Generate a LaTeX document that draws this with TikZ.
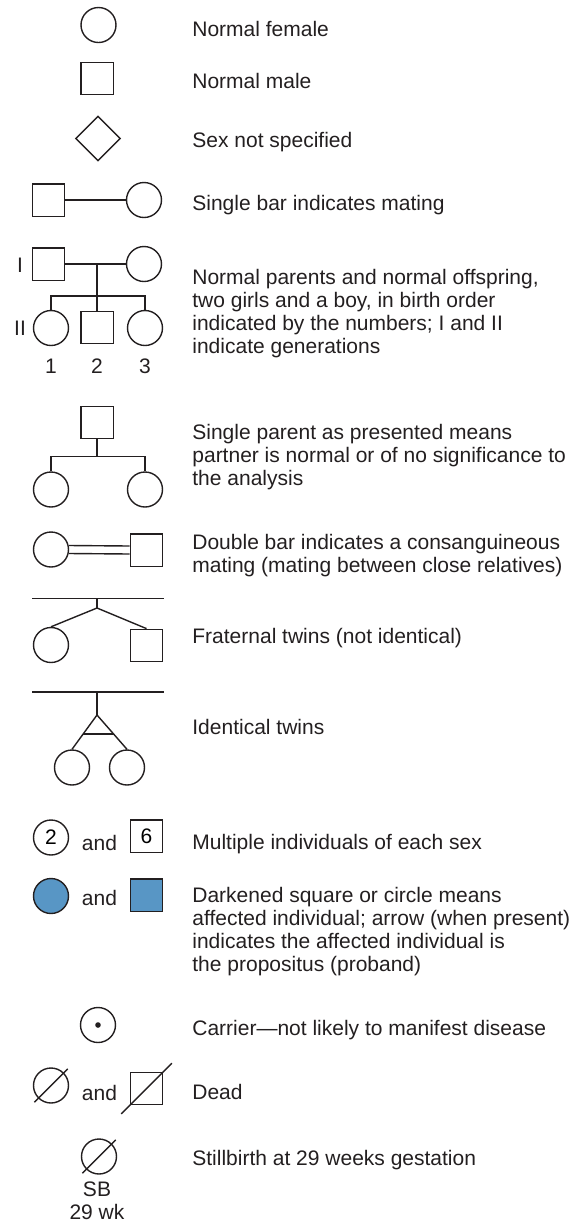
\documentclass[tikz,border=0pt]{standalone}
\usepackage{fontspec}
\setmainfont{Liberation Sans}
\usetikzlibrary{shapes.geometric,calc}
\definecolor{ink}{RGB}{35,31,32}
\definecolor{affected}{RGB}{88,150,197}
\tikzset{
	female/.style={circle,draw=ink,line width=0.7pt,minimum size=17.5pt,inner sep=0pt},
	male/.style={rectangle,draw=ink,line width=0.7pt,minimum size=16.2pt,inner sep=0pt},
	nosex/.style={diamond,draw=ink,line width=0.7pt,minimum size=22.5pt,inner sep=0pt},
	link/.style={draw=ink,line width=0.7pt},
	legend/.style={anchor=base west,align=left,inner sep=0pt,text=ink},
	word/.style={anchor=base,inner sep=0pt,text=ink},
}
\begin{document}
\begin{tikzpicture}[x=0.5pt,y=-0.5pt,font=\fontsize{10.5pt}{11.35pt}\selectfont]
	\useasboundingbox (0,0) rectangle (582,1222);
	% single symbols
	\node[female] (nf) at (98.5,25) {};
	\node[male] (nm) at (97,78.5) {};
	\node[nosex] (ns) at (98,138.5) {};
	% mating
	\node[male] (m4) at (48.5,200) {};
	\node[female] (f4) at (144,200) {};
	\draw[link] (m4) -- (f4);
	% parents and offspring
	\node[male] (m5) at (48.5,264) {};
	\node[female] (f5) at (144,264) {};
	\node[female] (k1) at (51,328) {};
	\node[male] (k2) at (97,327.5) {};
	\node[female] (k3) at (145,328) {};
	\coordinate (mate5) at (97,264);
	\draw[link] (m5) -- (f5);
	\draw[link] (mate5) -- (k2);
	\draw[link] (k1.north) -- ++(0,-14) -| (k3.north);
	\node[word] (gen1) at (20,272) {I};
	\node[word] (gen2) at (20,335) {II};
	\foreach \n/\xx in {1/51,2/97,3/145}
		\node[word] (num\n) at (\xx,373) {\n};
	% single parent
	\node[male] (p6) at (97,422.5) {};
	\node[female] (k61) at (51,489.5) {};
	\node[female] (k62) at (145,489.5) {};
	\coordinate (sib6) at (97,457);
	\draw[link] (p6) -- (sib6);
	\draw[link] (k61.north) -- ++(0,-15) -| (k62.north);
	% consanguineous mating
	\node[female] (f7) at (51,549.5) {};
	\node[male] (m7) at (146.5,550) {};
	\draw[link] ([yshift=2pt]f7.east) -- ([yshift=2pt]m7.west);
	\draw[link] ([yshift=-2pt]f7.east) -- ([yshift=-2pt]m7.west);
	% fraternal twins
	\coordinate (bar8l) at (32,598.5);
	\coordinate (bar8r) at (164,598.5);
	\coordinate (top8) at (97,598.5);
	\coordinate (split8) at (97,608);
	\node[female] (f8) at (51,645) {};
	\node[male] (m8) at (146.5,645.5) {};
	\draw[link] (bar8l) -- (bar8r);
	\draw[link] (top8) -- (split8);
	\draw[link] (f8.north) -- (split8) -- (m8.north);
	% identical twins
	\coordinate (bar9l) at (32,692);
	\coordinate (bar9r) at (164,692);
	\coordinate (top9) at (97,692);
	\coordinate (apex9) at (97,715);
	\node[female] (i1) at (72,767.5) {};
	\node[female] (i2) at (127,767.5) {};
	\draw[link] (bar9l) -- (bar9r);
	\draw[link] (top9) -- (apex9);
	\draw[link] (i1.north) -- (apex9) -- (i2.north);
	\draw[link] ($(apex9)!0.55!(i1.north)$) -- ($(apex9)!0.55!(i2.north)$);
	% several individuals
	\node[female] (n2) at (51,837.5) {2};
	\node[word] (and10) at (99.5,850) {and};
	\node[male] (n6) at (146.5,836) {6};
	% affected
	\node[female,fill=affected] (a1) at (51,896) {};
	\node[word] (and11) at (99.5,905) {and};
	\node[male,fill=affected] (a2) at (146.5,895) {};
	% carrier
	\node[female] (car) at (98,1025) {};
	\node[circle,fill=ink,minimum size=2.8pt,inner sep=0pt] (cardot) at (car.center) {};
	% dead
	\node[female] (d1) at (51,1085.5) {};
	\node[word] (and13) at (99.5,1100) {and};
	\node[male] (d2) at (146.5,1088.5) {};
	\draw[link] ($(d1.south west)!-0.15!(d1.north east)$) -- ($(d1.north east)!-0.15!(d1.south west)$);
	\draw[link] ($(d2.south west)!-0.25!(d2.north east)$) -- ($(d2.north east)!-0.25!(d2.south west)$);
	% stillbirth
	\node[female] (sb) at (99,1156.5) {};
	\draw[link] ($(sb.south west)!-0.15!(sb.north east)$) -- ($(sb.north east)!-0.15!(sb.south west)$);
	\node[word,align=center] (sbl) at (97,1219) {SB\\29 wk};
	% legend texts (multi-line ones sit on their last line)
	\node[legend] (t1) at (192,36) {Normal female};
	\node[legend] (t2) at (192,88) {Normal male};
	\node[legend] (t3) at (192,147) {Sex not specified};
	\node[legend] (t4) at (192,210) {Single bar indicates mating};
	\node[legend] (t5) at (192,353) {Normal parents and normal offspring,\\two girls and a boy, in birth order\\indicated by the numbers; I and II\\indicate generations};
	\node[legend] (t6) at (192,485) {Single parent as presented means\\partner is normal or of no significance to\\the analysis};
	\node[legend] (t7) at (192,572.5) {Double bar indicates a consanguineous\\mating (mating between close relatives)};
	\node[legend] (t8) at (192,643) {Fraternal twins (not identical)};
	\node[legend] (t9) at (192,734) {Identical twins};
	\node[legend] (t10) at (192,849) {Multiple individuals of each sex};
	\node[legend] (t11) at (192,971) {Darkened square or circle means\\affected individual; arrow (when present)\\indicates the affected individual is\\the propositus (proband)};
	\node[legend] (t12) at (192,1035) {Carrier—not likely to manifest disease};
	\node[legend] (t13) at (192,1099) {Dead};
	\node[legend] (t14) at (192,1165) {Stillbirth at 29 weeks gestation};
\end{tikzpicture}
\end{document}
